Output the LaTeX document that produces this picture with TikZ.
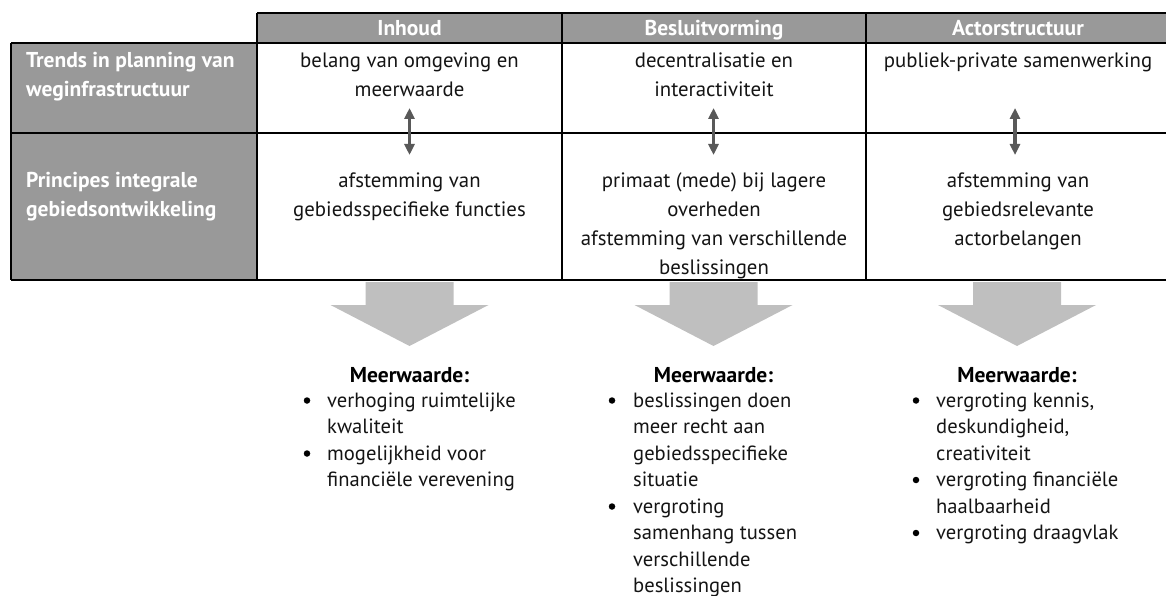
\documentclass[tikz,border=0pt]{standalone}
\usepackage{fontspec}
\setmainfont{PT Sans}
\usetikzlibrary{arrows.meta}
\definecolor{hdrgray}{HTML}{999999}
\definecolor{bigarrow}{HTML}{BFBFBF}
\definecolor{dblgray}{HTML}{595959}
\definecolor{ink}{HTML}{141414}
\begin{document}
\begin{tikzpicture}[x=1pt,y=-1pt,
  grid/.style={draw=black,line width=2.4pt},
  hdrtxt/.style={font=\fontsize{21.5}{25}\selectfont\bfseries,text=white,inner sep=0pt,anchor=base},
  lbltxt/.style={font=\fontsize{21.5}{25}\selectfont\bfseries,text=white,inner sep=0pt,anchor=base west},
  celltxt/.style={font=\fontsize{20.8}{25}\selectfont,text=ink,inner sep=0pt,anchor=base},
  valtitle/.style={font=\fontsize{21.5}{25}\selectfont\bfseries,text=black,inner sep=0pt,anchor=base},
  valtxt/.style={font=\fontsize{20.6}{25}\selectfont,text=ink,inner sep=0pt,anchor=base west},
  valdot/.style={circle,fill=black,inner sep=0pt,minimum size=6.5pt},
  dblarrow/.style={draw=dblgray,line width=3.5pt,{Triangle[width=10pt,length=11pt]}-{Triangle[width=10pt,length=11pt]}},
  bigdown/.style={fill=bigarrow}
]
\useasboundingbox (0,0) rectangle (1166,596);
% fills
\fill[hdrgray] (257,13) rectangle (1172,43);
\fill[hdrgray] (11,43) rectangle (257,280);
% grid lines
\draw[grid] (257,13) -- (1172,13);
\draw[grid] (11,43) -- (1172,43);
\draw[grid] (11,133) -- (1172,133);
\draw[grid] (11,280) -- (1172,280);
\draw[grid] (11,43) -- (11,280);
\draw[grid] (257,13) -- (257,280);
\draw[grid] (562,13) -- (562,280);
\draw[grid] (866,13) -- (866,280);
% header
\node[hdrtxt] (h1) at (409.5,36) {Inhoud};
\node[hdrtxt] (h2) at (714,36) {Besluitvorming};
\node[hdrtxt] (h3) at (1018,36) {Actorstructuur};
% row labels
\node[lbltxt] (r1a) at (26,68) {Trends in planning van};
\node[lbltxt] (r1b) at (26,97) {weginfrastructuur};
\node[lbltxt] (r2a) at (26,187) {Principes integrale};
\node[lbltxt] (r2b) at (26,216) {gebiedsontwikkeling};
% row 1 cells
\node[celltxt] (c11a) at (409.5,68) {belang van omgeving en};
\node[celltxt] (c11b) at (409.5,97) {meerwaarde};
\node[celltxt] (c12a) at (714,68) {decentralisatie en};
\node[celltxt] (c12b) at (714,97) {interactiviteit};
\node[celltxt] (c13a) at (1018,68) {publiek-private samenwerking};
% row 2 cells
\node[celltxt] (c21a) at (409.5,187) {afstemming van};
\node[celltxt] (c21b) at (409.5,216) {gebiedsspecifieke functies};
\node[celltxt] (c22a) at (714,187) {primaat (mede) bij lagere};
\node[celltxt] (c22b) at (714,216) {overheden};
\node[celltxt] (c22c) at (714,245) {afstemming van verschillende};
\node[celltxt] (c22d) at (714,274) {beslissingen};
\node[celltxt] (c23a) at (1018,187) {afstemming van};
\node[celltxt] (c23b) at (1018,216) {gebiedsrelevante};
\node[celltxt] (c23c) at (1018,245) {actorbelangen};
% double arrows
\coordinate (d1t) at (409.5,108); \coordinate (d1b) at (409.5,155);
\coordinate (d2t) at (713.5,108); \coordinate (d2b) at (713.5,155);
\coordinate (d3t) at (1015,108); \coordinate (d3b) at (1015,155);
\draw[dblarrow] (d1t) -- (d1b);
\draw[dblarrow] (d2t) -- (d2b);
\draw[dblarrow] (d3t) -- (d3b);
% big down arrows
\foreach \cx in {409.5,713.5,1017}{
  \fill[bigdown] (\cx-44,282) -- (\cx+44,282) -- (\cx+44,305) -- (\cx+79,305)
     -- (\cx,346) -- (\cx-79,305) -- (\cx-44,305) -- cycle;
}
% Meerwaarde blocks
\node[valtitle] (m1) at (409.5,382) {Meerwaarde:};
\node[valtitle] (m2) at (713.5,382) {Meerwaarde:};
\node[valtitle] (m3) at (1017,382) {Meerwaarde:};
% column 1
\node[valdot] (b11) at (307,400.5) {};
\node[valtxt] (t11a) at (327,407) {verhoging ruimtelijke};
\node[valtxt] (t11b) at (327,433.5) {kwaliteit};
\node[valdot] (b12) at (307,453.5) {};
\node[valtxt] (t12a) at (327,460) {mogelijkheid voor};
\node[valtxt] (t12b) at (327,486.5) {financiële verevening};
% column 2
\node[valdot] (b21) at (612,400.5) {};
\node[valtxt] (t21a) at (633,407) {beslissingen doen};
\node[valtxt] (t21b) at (633,433.5) {meer recht aan};
\node[valtxt] (t21c) at (633,460) {gebiedsspecifieke};
\node[valtxt] (t21d) at (633,486.5) {situatie};
\node[valdot] (b22) at (612,506.5) {};
\node[valtxt] (t22a) at (633,513) {vergroting};
\node[valtxt] (t22b) at (633,539.5) {samenhang tussen};
\node[valtxt] (t22c) at (633,566) {verschillende};
\node[valtxt] (t22d) at (633,592.5) {beslissingen};
% column 3
\node[valdot] (b31) at (916,400.5) {};
\node[valtxt] (t31a) at (936,407) {vergroting kennis,};
\node[valtxt] (t31b) at (936,433.5) {deskundigheid,};
\node[valtxt] (t31c) at (936,460) {creativiteit};
\node[valdot] (b32) at (916,480) {};
\node[valtxt] (t32a) at (936,486.5) {vergroting financiële};
\node[valtxt] (t32b) at (936,513) {haalbaarheid};
\node[valdot] (b33) at (916,533) {};
\node[valtxt] (t33a) at (936,539.5) {vergroting draagvlak};
\end{tikzpicture}
\end{document}
